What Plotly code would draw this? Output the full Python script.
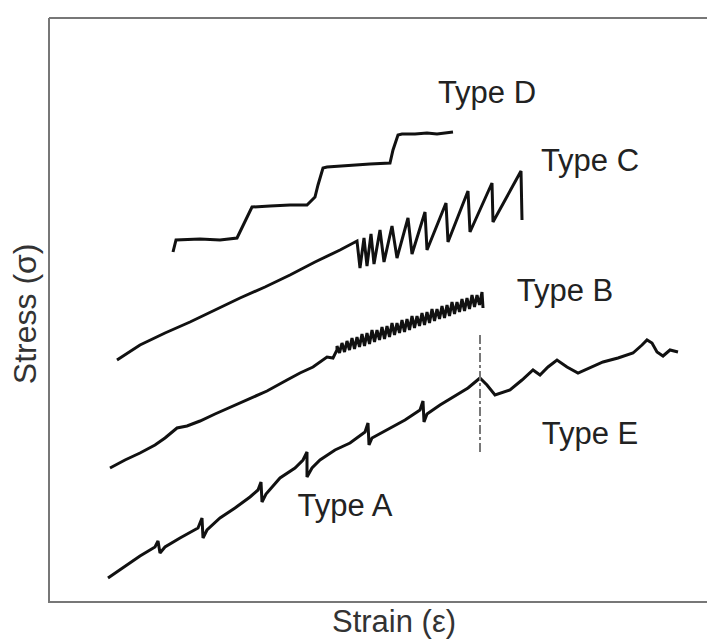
import plotly.graph_objects as go

# Schematic serrated-flow curves (arbitrary units: strain, stress)
typeD_strain = [123,126,150,170,187,195,202,220,240,257,265,268,273,277,300,320,340,343,348,352,365,377,387,395,403]
typeD_stress = [348,360,361,360,362,378,393,394,395,395,403,415,432,433,435,436,437,450,465,466,466,467,466,467,468]

typeC_strain = [67,90,115,140,165,190,215,240,265,290,307,
                310,314,317,321,324,330,334,342,347,358,362,375,377,396,398,418,420,442,443,471,472]
typeC_stress = [240,255,267,278,290,302,313,325,338,350,359,
                332,362,334,366,336,370,338,374,342,382,346,388,350,397,358,409,368,417,378,429,380]

typeB_smooth_strain = [60,75,90,105,115,127,137,150,165,183,200,217,237,250,263,272,277,283,287]
typeB_smooth_stress = [132,140,147,155,162,172,174,179,186,194,201,209,220,227,233,239,243,242,250]
typeB_serr_strain = [287,289.5,292,294.5,297,299.5,302,304.5,307,309.5,312,314.5,317,319.5,322,324.5,
                     327,329.5,332,334.5,337,339.5,342,344.5,347,349.5,352,354.5,357,359.5,362,364.5,
                     367,369.5,372,374.5,377,379.5,382,384.5,387,389.5,392,394.5,397,399.5,402,404.5,
                     407,409.5,412,414.5,417,419.5,422,424.5,427,429.5,432,433]
typeB_serr_stress = [254,247,257,248,259,250,262,251,263,253,266,254,267,256,270,258,
                     270,260,273,261,274,263,277,265,277,267,280,268,281,270,284,272,
                     284,274,287,275,288,277,291,279,291,281,294,282,295,284,298,286,
                     298,288,301,289,302,291,305,293,305,295,308,292]

typeA_strain = [58,75,90,105,108,110,115,130,148,152,153,157,170,185,200,208,211,212,216,230,245,253,257,257,262,
                270,285,300,315,318,319,322,340,355,370,373,374,377,390,405,418,430]
typeA_stress = [22,34,44,53,59,47,53,62,72,82,62,70,82,92,103,110,118,98,106,122,132,140,148,123,132,
                140,150,157,168,177,155,162,172,180,190,199,178,186,195,204,212,222]

typeE_strain = [430,437,445,460,472,483,490,498,507,517,528,540,553,568,583,592,597,602,607,613,620,628]
typeE_stress = [222,215,205,210,220,230,225,233,240,233,227,232,238,242,247,255,260,257,248,244,250,248]

transition_strain = [430, 430]
transition_stress = [148, 265]

label_text = ["Type D", "Type C", "Type B", "Type E", "Type A"]
label_strain = [437, 540, 515, 540, 295]
label_stress = [505, 437, 307, 164, 92]

line_style = dict(color="#111111", width=3)
FONT = "Liberation Sans, Arial, sans-serif"

fig = go.Figure()
fig.add_trace(go.Scatter(x=typeD_strain, y=typeD_stress, mode="lines", line=line_style))
fig.add_trace(go.Scatter(x=typeC_strain, y=typeC_stress, mode="lines", line=line_style))
fig.add_trace(go.Scatter(x=typeB_smooth_strain + typeB_serr_strain,
                         y=typeB_smooth_stress + typeB_serr_stress, mode="lines", line=line_style))
fig.add_trace(go.Scatter(x=typeA_strain, y=typeA_stress, mode="lines", line=line_style))
fig.add_trace(go.Scatter(x=typeE_strain, y=typeE_stress, mode="lines", line=line_style))
fig.add_trace(go.Scatter(x=transition_strain, y=transition_stress, mode="lines",
                         line=dict(color="#777777", width=2, dash="dashdot")))

fig.add_trace(go.Scatter(x=label_strain, y=label_stress, mode="text", text=label_text,
                         textfont=dict(family=FONT, size=31, color="#222222")))

fig.update_layout(
    width=707, height=640,
    margin=dict(l=50, r=0, t=18, b=39),
    paper_bgcolor="white", plot_bgcolor="white",
    showlegend=False,
    xaxis=dict(range=[0, 657], showgrid=False, zeroline=False, showticklabels=False, ticks="",
               showline=True, linecolor="#777777", linewidth=2, mirror=False),
    yaxis=dict(range=[-1, 582], showgrid=False, zeroline=False, showticklabels=False, ticks="",
               showline=True, linecolor="#777777", linewidth=2),
    shapes=[dict(type="line", xref="paper", yref="paper", x0=-0.0015, x1=1.0, y0=1, y1=1,
                 line=dict(color="#777777", width=2))],
    annotations=[
        dict(text="Strain (ε)", xref="paper", yref="paper", x=0.5236, y=-0.036,
             xanchor="center", yanchor="middle", showarrow=False,
             font=dict(family=FONT, size=31, color="#333333")),
        dict(text="Stress (σ)", xref="paper", yref="paper", x=-0.038, y=0.492,
             xanchor="center", yanchor="middle", showarrow=False, textangle=-90,
             font=dict(family=FONT, size=32, color="#333333")),
    ],
)

fig.write_html(
    "out.html",
    config={"displayModeBar": False},
    post_script="document.body.style.margin='0';document.body.style.overflow='hidden';"
                "document.documentElement.style.overflow='hidden';",
)
